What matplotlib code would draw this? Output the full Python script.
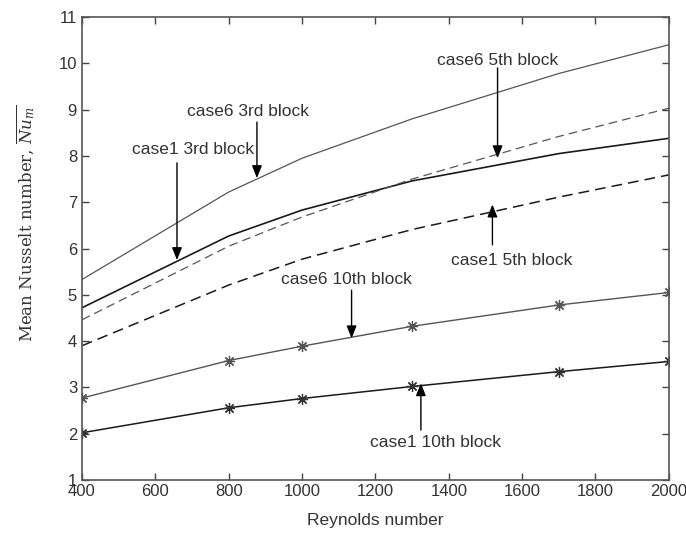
import matplotlib
matplotlib.use("Agg")
import matplotlib.pyplot as plt

plt.rcParams["mathtext.fontset"] = "dejavuserif"

# Mean Nusselt number vs Reynolds number for case1 / case6 blocks
reynolds = [400, 800, 1000, 1300, 1700, 2000]
case6_3rd = [5.33, 7.22, 7.95, 8.80, 9.78, 10.40]
case1_3rd = [4.72, 6.27, 6.83, 7.46, 8.05, 8.38]
case6_5th = [4.46, 6.05, 6.68, 7.50, 8.42, 9.03]
case1_5th = [3.90, 5.21, 5.77, 6.41, 7.11, 7.59]
case6_10th = [2.77, 3.58, 3.89, 4.32, 4.78, 5.05]
case1_10th = [2.02, 2.56, 2.76, 3.02, 3.34, 3.56]

x_ticks = list(range(400, 2001, 200))
y_ticks = list(range(1, 12))

# label text, text centre, arrow start, arrow tip
labels = [
    ("case6 3rd block", (852, 8.95), (877, 8.73), (877, 7.52)),
    ("case1 3rd block", (702, 8.13), (659, 7.85), (659, 5.75)),
    ("case6 5th block", (1534, 10.07), (1533, 9.90), (1533, 7.95)),
    ("case1 5th block", (1572, 5.75), (1519, 6.08), (1519, 6.95)),
    ("case6 10th block", (1120, 5.32), (1135, 5.10), (1135, 4.06)),
    ("case1 10th block", (1365, 1.80), (1324, 2.08), (1324, 3.09)),
]

sans = ["Liberation Sans", "DejaVu Sans"]
asterisk = (8, 2, 0)

fig = plt.figure(figsize=(6.86, 5.35), dpi=100)
ax = fig.add_axes([0.1195, 0.1028, 0.8555, 0.8654])

ax.plot(reynolds, case6_3rd, color="#555555", lw=0.9)
ax.plot(reynolds, case1_3rd, color="#1a1a1a", lw=1.2)
ax.plot(reynolds, case6_5th, color="#555555", lw=0.9, dashes=(7, 4))
ax.plot(reynolds, case1_5th, color="#1a1a1a", lw=1.1, dashes=(7, 4))
ax.plot(reynolds, case6_10th, color="#555555", lw=1.0,
        marker=asterisk, ms=8, mec="#555555", mew=0.9)
ax.plot(reynolds, case1_10th, color="#1a1a1a", lw=1.1,
        marker=asterisk, ms=8, mec="#333333", mew=0.9)

for text, pos, start, tip in labels:
    ax.text(pos[0], pos[1], text, ha="center", va="center",
            fontsize=12.5, color="#333333", family=sans)
    ax.annotate("", xy=tip, xytext=start,
                arrowprops=dict(arrowstyle="-|>,head_length=0.75,head_width=0.3",
                                color="black", lw=1.0, shrinkA=0, shrinkB=0))

ax.set_xlim(400, 2000)
ax.set_ylim(1, 11)
ax.set_xticks(x_ticks)
ax.set_yticks(y_ticks)
ax.tick_params(direction="in", top=True, right=True, length=5,
               width=1.0, colors="#444444", labelcolor="#333333", labelsize=12)
ax.tick_params(axis="x", pad=3)
for lab in ax.get_xticklabels() + ax.get_yticklabels():
    lab.set_family(sans)
for spine in ax.spines.values():
    spine.set_color("#555555")
    spine.set_linewidth(1.2)

ax.set_xlabel("Reynolds number", fontsize=12.5, color="#333333",
              family=sans, labelpad=10)
ax.set_ylabel(r"Mean Nusselt number, $\overline{Nu_m}$", fontsize=12,
              color="#333333", family=["DejaVu Serif"])
ax.yaxis.set_label_coords(-0.077, 0.555)

fig.savefig("out.png", dpi=100)
